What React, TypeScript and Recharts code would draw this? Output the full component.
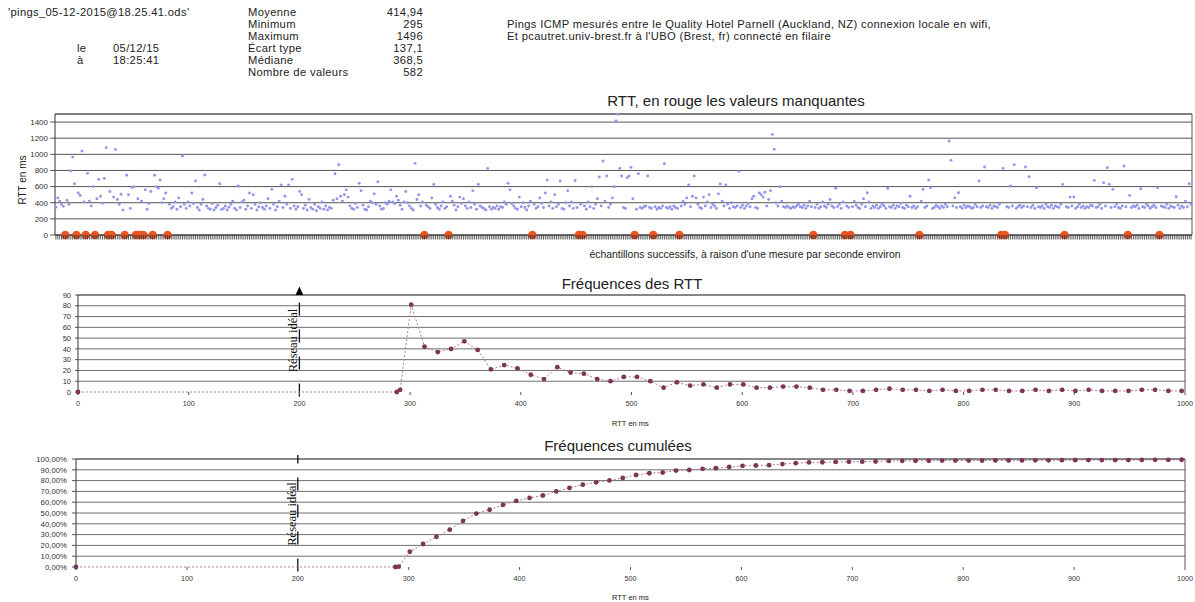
import React from 'react';
import {
  ScatterChart,
  Scatter,
  LineChart,
  Line,
  XAxis,
  YAxis,
  CartesianGrid,
  ReferenceLine,
} from 'recharts';

// ---------- Header data ----------
const FILE_NAME = "'pings_05-12-2015@18.25.41.ods'";
const DATE_LABELS = ['le', 'à'];
const DATE_VALUES = ['05/12/15', '18:25:41'];
const STATS_LABELS = ['Moyenne', 'Minimum', 'Maximum', 'Écart type', 'Médiane', 'Nombre de valeurs'];
const STATS_VALUES = ['414,94', '295', '1496', '137,1', '368,5', '582'];
const DESCRIPTION = [
  'Pings ICMP mesurés entre le Quality Hotel Parnell (Auckland, NZ) connexion locale en wifi,',
  "Et pcautret.univ-brest.fr à l'UBO (Brest, fr) connecté en filaire",
];

// ---------- RTT samples (0 = missing value) ----------
const RTT_SAMPLES: number[] = [
  345, 460, 420, 380, 355, 0, 430, 380, 793, 966, 636, 0, 520, 490, 1041, 410, 0, 764, 420, 360,
  600, 0, 450, 690, 480, 395, 702, 1082, 0, 540, 0, 470, 1061, 440, 380, 505, 310, 0, 740, 500,
  330, 590, 600, 0, 450, 0, 420, 0, 560, 320, 390, 540, 0, 740, 600, 580, 681, 400, 450, 520,
  0, 380, 330, 350, 410, 320, 460, 350, 979, 380, 330, 410, 360, 520, 390, 669, 340, 310, 380, 440,
  743, 360, 330, 320, 390, 310, 340, 370, 636, 315, 330, 360, 310, 345, 380, 420, 330, 310, 607, 340,
  410, 430, 320, 360, 520, 330, 500, 380, 310, 350, 400, 340, 320, 360, 450, 330, 566, 380, 310, 350,
  420, 620, 340, 480, 380, 620, 330, 690, 360, 320, 350, 540, 500, 330, 370, 310, 440, 340, 320, 380,
  300, 350, 330, 410, 320, 360, 310, 340, 330, 430, 760, 450, 871, 480, 420, 500, 560, 470, 360, 330,
  320, 390, 340, 640, 550, 370, 320, 310, 350, 420, 400, 510, 380, 661, 360, 320, 330, 400, 380, 420,
  560, 410, 390, 480, 430, 370, 320, 410, 540, 400, 360, 330, 310, 888, 440, 500, 360, 410, 0, 370,
  350, 330, 460, 628, 380, 340, 320, 360, 410, 330, 350, 0, 480, 420, 370, 310, 350, 470, 390, 450,
  360, 330, 410, 340, 550, 380, 320, 628, 360, 340, 330, 310, 826, 350, 320, 340, 330, 360, 320, 350,
  340, 410, 380, 640, 560, 390, 360, 330, 320, 470, 350, 400, 340, 310, 360, 420, 0, 380, 330, 350,
  460, 390, 340, 520, 681, 360, 410, 330, 500, 350, 380, 669, 330, 320, 400, 550, 360, 410, 330, 675,
  340, 0, 380, 0, 360, 320, 410, 350, 600, 330, 380, 450, 719, 360, 917, 420, 731, 340, 380, 460,
  599, 1413, 1496, 826, 731, 340, 330, 710, 731, 838, 450, 0, 320, 760, 340, 330, 350, 360, 731, 340,
  330, 0, 350, 320, 340, 330, 360, 884, 340, 330, 350, 320, 360, 340, 330, 0, 360, 420, 380, 460,
  620, 350, 480, 731, 460, 380, 340, 330, 470, 360, 410, 500, 340, 380, 360, 330, 510, 632, 420, 360,
  620, 380, 330, 400, 350, 340, 360, 789, 340, 370, 330, 360, 390, 350, 450, 480, 340, 330, 520, 500,
  470, 530, 360, 440, 550, 1247, 1062, 400, 360, 599, 420, 350, 340, 360, 340, 330, 350, 340, 360, 380,
  350, 340, 370, 330, 360, 420, 350, 0, 340, 380, 330, 350, 410, 360, 340, 380, 440, 360, 340, 578,
  350, 380, 330, 410, 0, 360, 340, 0, 350, 420, 370, 340, 330, 380, 450, 350, 524, 410, 330, 360,
  340, 370, 330, 350, 380, 360, 330, 578, 350, 340, 370, 330, 360, 350, 390, 340, 330, 370, 350, 480,
  340, 360, 330, 350, 0, 420, 566, 340, 360, 681, 587, 330, 340, 370, 350, 330, 360, 340, 380, 350,
  1165, 925, 360, 460, 340, 524, 350, 330, 370, 340, 360, 350, 330, 340, 380, 350, 669, 340, 360, 843,
  350, 340, 370, 330, 360, 350, 340, 380, 0, 826, 0, 350, 340, 607, 360, 872, 330, 350, 370, 340,
  360, 843, 350, 723, 340, 370, 330, 587, 350, 340, 360, 330, 380, 350, 340, 370, 330, 360, 350, 340,
  380, 628, 0, 350, 340, 470, 360, 471, 330, 350, 380, 340, 360, 330, 350, 340, 370, 360, 677, 340,
  350, 380, 330, 648, 360, 834, 628, 340, 566, 350, 380, 340, 330, 360, 855, 350, 0, 491, 340, 360,
  350, 370, 330, 574, 350, 340, 380, 360, 330, 350, 370, 340, 587, 0, 360, 350, 340, 380, 330, 360,
  350, 340, 475, 370, 330, 360, 340, 420, 350, 636, 380,
];
const RTT_Y_TICKS = [0, 200, 400, 600, 800, 1000, 1200, 1400];
const RTT_Y_MAX = 1500;

// ---------- RTT histogram ----------
const HIST_RTT = [
  0, 288, 291,
  301, 313, 325, 337, 349, 361, 373, 385, 397, 409, 421, 433, 445, 457, 469,
  481, 493, 505, 517, 529, 541, 553, 565, 577, 589, 601, 613, 625, 637, 649, 661,
  673, 685, 697, 709, 721, 733, 745, 757, 769, 781, 793, 805, 817, 829, 841, 853,
  865, 877, 889, 901, 913, 925, 937, 949, 961, 973, 985, 997,
];
const HIST_COUNT = [
  0, 0, 2,
  81, 42, 37, 40, 47, 39, 21, 25, 22, 16, 12, 23, 18, 17, 12,
  10, 14, 14, 10, 4, 9, 6, 7, 4, 7, 7, 4, 4, 5, 5, 4,
  2, 2, 1, 1, 2, 3, 2, 2, 1, 2, 1, 1, 2, 2, 1, 1,
  2, 1, 2, 1, 2, 1, 1, 1, 2, 2, 1, 1,
];
const CUMUL_PCT = [
  0, 0, 0.3,
  14.1, 21.3, 27.9, 34.6, 42.8, 49.5, 53, 57.5, 61.2, 64, 66.2, 70, 73.2, 76.2, 78.4,
  80.2, 82.4, 85.2, 86.8, 87.5, 89.3, 89.8, 90.9, 91.5, 92.6, 93.7, 94, 94.3, 95.3, 96.1, 96.8,
  97, 97.3, 97.4, 97.5, 97.7, 98.2, 98.3, 98.4, 98.4, 98.5, 98.5, 98.5, 98.6, 98.7, 98.7, 98.7,
  98.8, 98.8, 98.9, 98.9, 99, 99, 99, 99, 99.1, 99.2, 99.2, 99.3,
];
const RTT_X_TICKS = [0, 100, 200, 300, 400, 500, 600, 700, 800, 900, 1000];
const FREQ_Y_TICKS = [0, 10, 20, 30, 40, 50, 60, 70, 80, 90];
const CUMUL_Y_TICKS = [0, 10, 20, 30, 40, 50, 60, 70, 80, 90, 100];
const IDEAL_RTT = 200;

// ---------- Derived tables ----------
const samplePoints = RTT_SAMPLES.map((v, i) => ({ i, v }));
const receivedPoints = samplePoints.filter((p) => p.v > 0);
const missingPoints = samplePoints.filter((p) => p.v === 0);
const sampleTicks = samplePoints.map((p) => p.i);
const histTable = HIST_RTT.map((rtt, k) => ({ rtt, count: HIST_COUNT[k], pct: CUMUL_PCT[k] }));

const SANS = 'Liberation Sans, Arial, sans-serif';
const SERIF = 'Liberation Serif, Times New Roman, serif';
const TEXT = '#222';
const HEAD = 11.2;
const ROW = 12;

type TxtProps = {
  x: number;
  y: number;
  size: number;
  anchor?: 'start' | 'middle' | 'end';
  family?: string;
  color?: string;
  lh?: number;
  spacing?: number;
  children: React.ReactNode;
};

const Txt = ({ x, y, size, anchor = 'start', family = SANS, color = TEXT, lh, spacing = 0, children }: TxtProps) => {
  const shift = anchor === 'start' ? '0' : anchor === 'middle' ? '-50%' : '-100%';
  const lineH = lh ?? size * 1.2;
  return (
    <div
      style={{
        position: 'absolute',
        left: x,
        top: y - lineH / 2 - size * 0.1,
        fontSize: size,
        lineHeight: `${lineH}px`,
        fontFamily: family,
        color,
        letterSpacing: spacing,
        whiteSpace: 'nowrap',
        transform: `translateX(${shift})`,
      }}
    >
      {children}
    </div>
  );
};

const BlueDot = (p: any) => <circle cx={p.cx} cy={p.cy} r={1.45} fill="#9494ea" />;
const RedDot = (p: any) => <circle cx={p.cx} cy={p.cy} r={4.2} fill="#ec5522" />;

const SampleTick = (p: any) => (
  <line x1={p.x} x2={p.x} y1={p.y} y2={p.y + 4.5} stroke="#333" strokeWidth={0.8} />
);

const histDot = (p: any) => (
  <circle key={`d${p.index}`} cx={p.cx} cy={p.cy} r={2.4} fill="#7b3557" />
);

const idealMarker = (withArrow: boolean, textDy: number) => (p: any) => {
  const x = p.x1;
  const top = Math.min(p.y1, p.y2);
  const bottom = Math.max(p.y1, p.y2);
  const mid = (top + bottom) / 2 + textDy;
  return (
    <g>
      <line
        x1={x}
        x2={x}
        y1={bottom + 4.5}
        y2={withArrow ? top + 1 : top - 4}
        stroke="#111"
        strokeWidth={1.3}
        strokeDasharray="13 14"
      />
      {withArrow && (
        <polygon points={`${x - 3.9},${top} ${x + 3.9},${top} ${x},${top - 8.5}`} fill="#000" />
      )}
      <text
        transform={`translate(${x - 2.3},${mid}) rotate(-90)`}
        textAnchor="middle"
        fontFamily={SERIF}
        fontSize={12.5}
        fill="#111"
      >
        Réseau idéal
      </text>
    </g>
  );
};

const smallTick = { fontSize: 7.2, fill: '#333', fontFamily: SANS };

export default function App() {
  const head = (key: string, x: number, y: number, text: string, anchor: 'start' | 'end' = 'start') => (
    <Txt key={key} x={x} y={y} size={HEAD} lh={ROW} spacing={0.35} anchor={anchor}>
      {text}
    </Txt>
  );
  return (
    <div style={{ position: 'absolute', left: 0, top: 0, width: 1195, height: 602, background: '#fff', overflow: 'hidden' }}>
      {/* Header */}
      {head('fn', 8, 13, FILE_NAME)}
      {DATE_LABELS.map((l, k) => head(`dl${k}`, 77, 49 + k * ROW, l))}
      {DATE_VALUES.map((v, k) => head(`dv${k}`, 113, 49 + k * ROW, v))}
      {STATS_LABELS.map((l, k) => head(`sl${k}`, 248, 13 + k * ROW, l))}
      {STATS_VALUES.map((v, k) => head(`sv${k}`, 423, 13 + k * ROW, v, 'end'))}
      {DESCRIPTION.map((d, k) => head(`de${k}`, 507, 25 + k * ROW, d))}

      {/* Chart 1: RTT samples */}
      <Txt x={736} y={102.5} size={15} anchor="middle">RTT, en rouge les valeurs manquantes</Txt>
      <div
        style={{
          position: 'absolute',
          left: 22,
          top: 180,
          fontSize: 10,
          fontFamily: SANS,
          color: TEXT,
          whiteSpace: 'nowrap',
          transform: 'translate(-50%, -50%) rotate(-90deg)',
        }}
      >
        RTT en ms
      </div>
      <div style={{ position: 'absolute', left: 0, top: 95, width: 1195, height: 170 }}>
        <ScatterChart width={1195} height={170} margin={{ top: 19, right: 3, bottom: 20, left: 10 }}>
          <CartesianGrid vertical={false} stroke="#555" strokeWidth={1} />
          <XAxis
            type="number"
            dataKey="i"
            domain={[-0.5, RTT_SAMPLES.length - 0.5]}
            ticks={sampleTicks}
            interval={0}
            tick={SampleTick}
            tickSize={0}
            tickMargin={0}
            tickLine={false}
            height={10}
            axisLine={{ stroke: '#333' }}
          />
          <YAxis
            type="number"
            dataKey="v"
            domain={[0, RTT_Y_MAX]}
            ticks={RTT_Y_TICKS}
            interval={0}
            width={45}
            tickSize={5}
            tickMargin={2}
            axisLine={{ stroke: '#333' }}
            tickLine={{ stroke: '#555' }}
            tick={{ fontSize: 8, fill: '#333', fontFamily: SANS }}
          />
          <ReferenceLine y={RTT_Y_MAX} stroke="#555" />
          <ReferenceLine x={RTT_SAMPLES.length - 0.5} stroke="#555" />
          <Scatter data={receivedPoints} shape={BlueDot} isAnimationActive={false} />
          <Scatter data={missingPoints} shape={RedDot} isAnimationActive={false} />
        </ScatterChart>
      </div>
      <Txt x={745} y={256.5} size={10.4} anchor="middle">
        échantillons successifs, à raison d'une mesure par seconde environ
      </Txt>

      {/* Chart 2: RTT frequencies */}
      <Txt x={632} y={285.5} size={15} anchor="middle">Fréquences des RTT</Txt>
      <div style={{ position: 'absolute', left: 0, top: 280, width: 1195, height: 150 }}>
        <LineChart width={1195} height={150} data={histTable} margin={{ top: 15, right: 10, bottom: 20, left: 18 }}>
          <CartesianGrid
            vertical={false}
            stroke="#6e6e6e"
            horizontalValues={FREQ_Y_TICKS.filter((v) => v > 0)}
          />
          <XAxis
            type="number"
            dataKey="rtt"
            domain={[0, 1000]}
            ticks={RTT_X_TICKS}
            interval={0}
            height={18}
            tickSize={3}
            tickMargin={5.5}
            axisLine={false}
            tickLine={{ stroke: '#555' }}
            tick={smallTick}
          />
          <YAxis
            type="number"
            domain={[0, 90]}
            ticks={FREQ_Y_TICKS}
            interval={0}
            width={60}
            tickSize={3}
            tickMargin={4}
            axisLine={{ stroke: '#333' }}
            tickLine={{ stroke: '#555' }}
            tick={{ ...smallTick, fontSize: 7.5 }}
          />
          <ReferenceLine y={90} stroke="#555" />
          <ReferenceLine x={1000} stroke="#555" />
          <ReferenceLine x={IDEAL_RTT} shape={idealMarker(true, -3)} />
          <Line
            dataKey="count"
            stroke="#b07a95"
            strokeWidth={1}
            strokeDasharray="2 2"
            dot={histDot}
            activeDot={false}
            isAnimationActive={false}
          />
        </LineChart>
      </div>
      <Txt x={612} y={424} size={7.5}>RTT en ms</Txt>

      {/* Chart 3: cumulative frequencies */}
      <Txt x={618} y={447.5} size={15} anchor="middle">Fréquences cumulées</Txt>
      <div style={{ position: 'absolute', left: 0, top: 440, width: 1195, height: 162 }}>
        <LineChart width={1195} height={162} data={histTable} margin={{ top: 19, right: 10, bottom: 17, left: 16 }}>
          <CartesianGrid
            vertical={false}
            stroke="#6e6e6e"
            horizontalValues={CUMUL_Y_TICKS.filter((v) => v > 0)}
          />
          <XAxis
            type="number"
            dataKey="rtt"
            domain={[0, 1000]}
            ticks={RTT_X_TICKS}
            interval={0}
            height={18}
            tickSize={3}
            tickMargin={6}
            axisLine={false}
            tickLine={{ stroke: '#555' }}
            tick={smallTick}
          />
          <YAxis
            type="number"
            domain={[0, 100]}
            ticks={CUMUL_Y_TICKS}
            interval={0}
            width={60}
            tickSize={4}
            tickMargin={5}
            axisLine={{ stroke: '#333' }}
            tickLine={{ stroke: '#555' }}
            tickFormatter={(v: number) => `${v},00%`}
            tick={{ ...smallTick, fontSize: 7.8 }}
          />
          <ReferenceLine y={100} stroke="#555" />
          <ReferenceLine x={1000} stroke="#555" />
          <ReferenceLine x={IDEAL_RTT} shape={idealMarker(false, 1)} />
          <Line
            dataKey="pct"
            stroke="#b07a95"
            strokeWidth={1}
            strokeDasharray="2 2"
            dot={histDot}
            activeDot={false}
            isAnimationActive={false}
          />
        </LineChart>
      </div>
      <Txt x={612} y={598} size={7.5}>RTT en ms</Txt>
    </div>
  );
}
